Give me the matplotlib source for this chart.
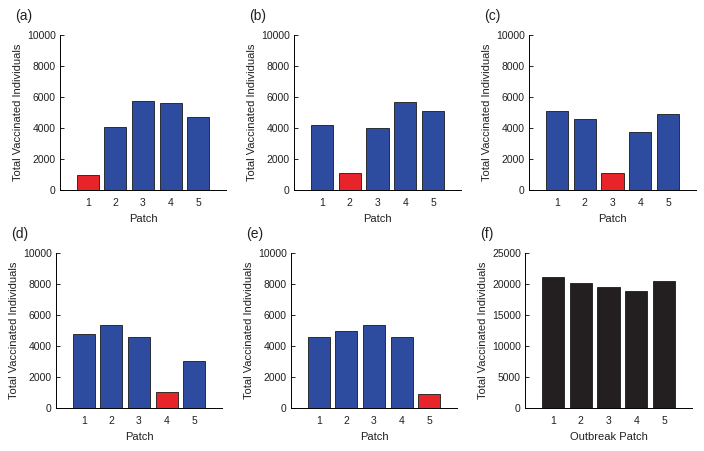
import matplotlib.pyplot as plt

plt.rcParams['font.family'] = ['Liberation Sans', 'DejaVu Sans']

patches = [1, 2, 3, 4, 5]

vacc_a = [1000, 4060, 5740, 5590, 4690]
vacc_b = [4180, 1100, 4010, 5660, 5080]
vacc_c = [5080, 4560, 1080, 3770, 4880]
vacc_d = [4800, 5360, 4610, 1010, 3040]
vacc_e = [4570, 4940, 5360, 4550, 930]
vacc_f = [21100, 20150, 19500, 18850, 20420]

outbreak = [1, 2, 3, 4, 5, None]  # red bar in each panel (None = all black)
panel_labels = ['(a)', '(b)', '(c)', '(d)', '(e)', '(f)']
data = [vacc_a, vacc_b, vacc_c, vacc_d, vacc_e, vacc_f]

blue = '#2e4c9f'
red = '#e8242b'
black = '#231f20'
txt = '#231f20'

W, H = 704, 451
fig = plt.figure(figsize=(W / 100, H / 100), dpi=100)

# axes boxes in pixels: left, top, right, bottom
boxes = [(60, 35, 226, 190), (294, 35, 461, 190), (529, 35, 696, 190),
         (56, 253, 222, 408), (291, 253, 457, 408), (525, 253, 692, 408)]

for i in range(6):
    l, t, r, b = boxes[i]
    ax = fig.add_axes([l / W, 1 - b / H, (r - l) / W, (b - t) / H])
    vals = data[i]
    if outbreak[i] is None:
        colors = [black] * 5
    else:
        colors = [red if p == outbreak[i] else blue for p in patches]
    ax.bar(patches, vals, width=0.8, color=colors, edgecolor='#1a1a1a', linewidth=0.6)
    ax.set_xlim(0, 6)
    if i == 5:
        ax.set_ylim(0, 25000)
        ax.set_yticks([0, 5000, 10000, 15000, 20000, 25000])
        ax.set_xlabel('Outbreak Patch', fontsize=8, labelpad=4, color=txt)
    else:
        ax.set_ylim(0, 10000)
        ax.set_yticks([0, 2000, 4000, 6000, 8000, 10000])
        ax.set_xlabel('Patch', fontsize=8, labelpad=4, color=txt)
    ax.set_xticks(patches)
    ax.set_ylabel('Total Vaccinated Individuals', fontsize=8, labelpad=3, color=txt)
    ax.tick_params(axis='y', direction='in', length=3, width=0.6, labelsize=7.5,
                   pad=3, labelcolor=txt)
    ax.tick_params(axis='x', length=0, labelsize=7.5, pad=6, labelcolor=txt)
    ax.spines['top'].set_visible(False)
    ax.spines['right'].set_visible(False)
    ax.spines['left'].set_linewidth(0.7)
    ax.spines['bottom'].set_linewidth(0.7)
    ax.text(-0.27, 1.12, panel_labels[i], transform=ax.transAxes, fontsize=10,
            ha='left', va='center', color=txt)

fig.savefig('out.png', dpi=100)
